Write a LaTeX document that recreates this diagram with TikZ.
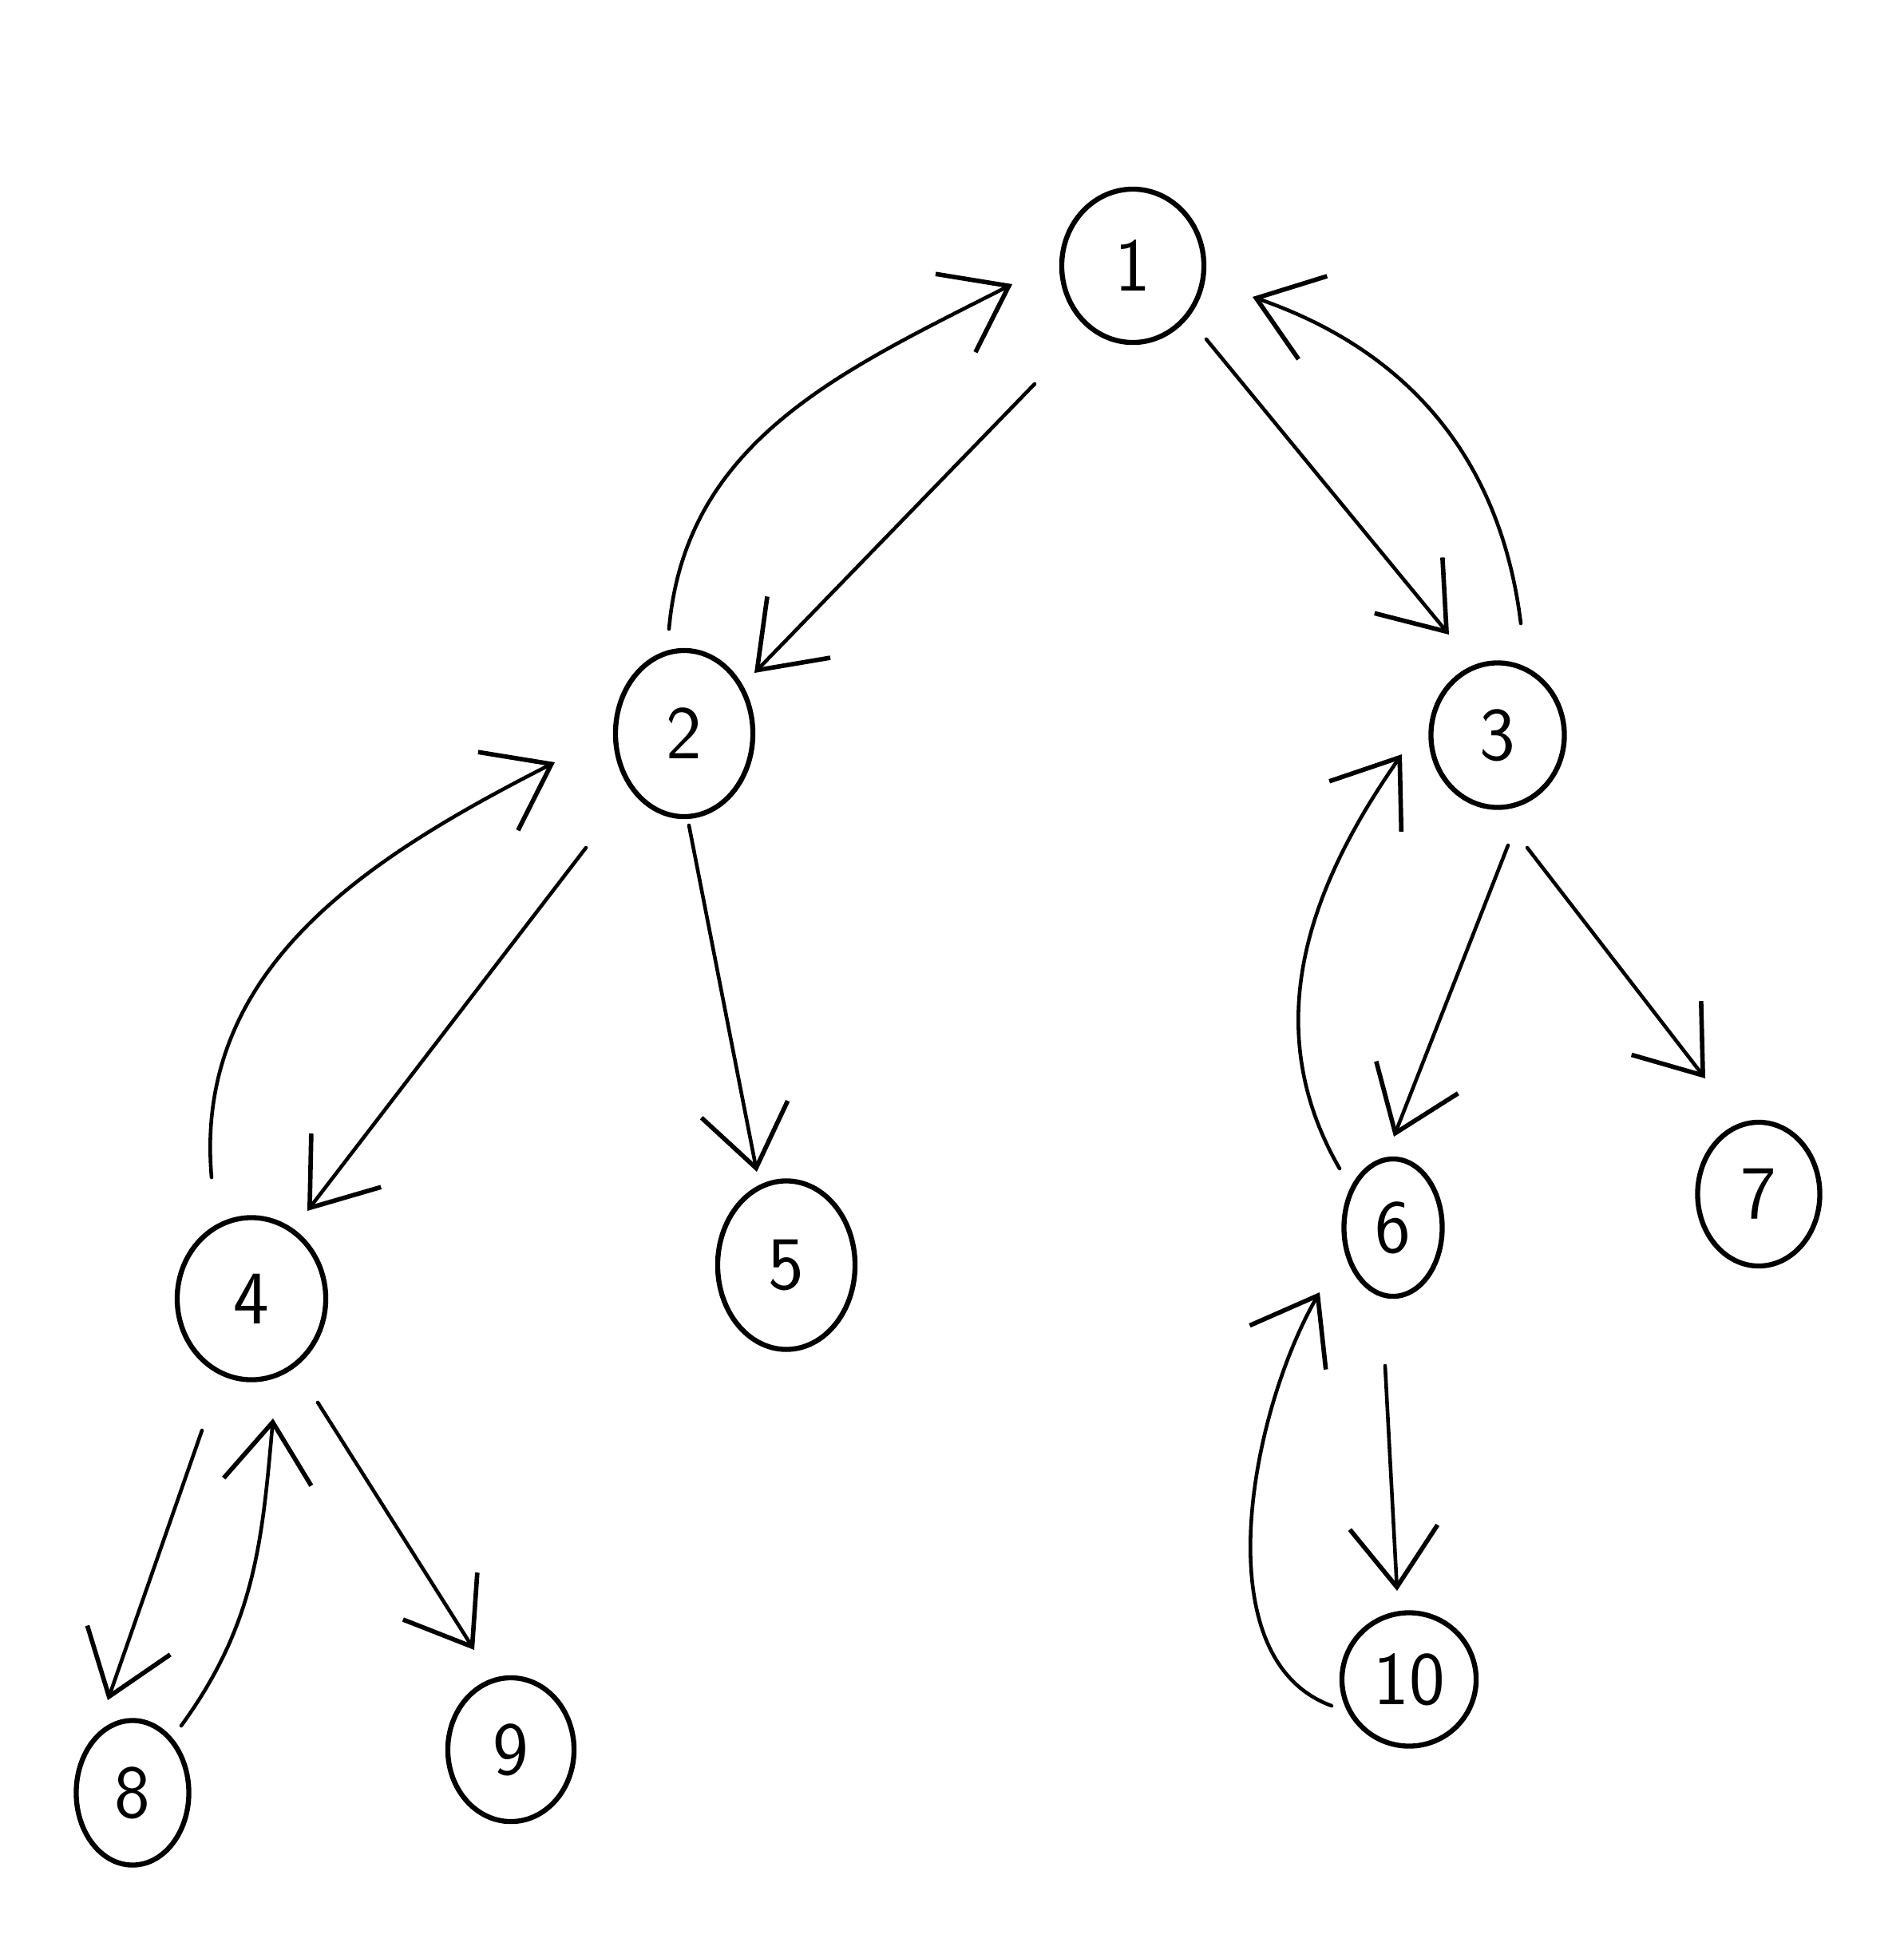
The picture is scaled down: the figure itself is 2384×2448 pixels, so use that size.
\documentclass[tikz,border=0pt]{standalone}
\usetikzlibrary{arrows.meta,shapes.geometric}
\begin{document}
\begin{tikzpicture}[x=0.01cm,y=0.01cm,
  vertex/.style={draw,ellipse,line width=1.8pt,inner sep=0pt,
    font=\sffamily\fontsize{27}{30}\selectfont},
  link/.style={line width=1.3pt,line cap=round,
    -{Straight Barb[length=7.5mm,width=11mm,line width=1.6pt]}},
]
\useasboundingbox[fill=white] (0,0) rectangle (2384,-2448);

% tree nodes
\node[vertex,minimum width=1.78cm,minimum height=1.92cm] (n1)  at (1419,-333)  {1};
\node[vertex,minimum width=1.72cm,minimum height=2.08cm] (n2)  at (857,-919)   {2};
\node[vertex,minimum width=1.67cm,minimum height=1.81cm] (n3)  at (1876,-921)  {3};
\node[vertex,minimum width=1.86cm,minimum height=2.03cm] (n4)  at (315,-1627)  {4};
\node[vertex,minimum width=1.72cm,minimum height=2.11cm] (n5)  at (985,-1585)  {5};
\node[vertex,minimum width=1.23cm,minimum height=1.72cm] (n6)  at (1745,-1538) {6};
\node[vertex,minimum width=1.53cm,minimum height=1.80cm] (n7)  at (2203,-1496) {7};
\node[vertex,minimum width=1.41cm,minimum height=1.81cm] (n8)  at (166,-2246)  {8};
\node[vertex,minimum width=1.58cm,minimum height=1.80cm] (n9)  at (640,-2192)  {9};
\node[vertex,minimum width=1.68cm,minimum height=1.67cm] (n10) at (1765,-2104) {10};

% downward edges
\draw[link] ([shift={(-123,-148)}]n1.center) -- ([shift={(88,76)}]n2.center);
\draw[link] ([shift={(92,-92)}]n1.center) -- ([shift={(-61,126)}]n3.center);
\draw[link] ([shift={(-123,-143)}]n2.center) -- ([shift={(70,110)}]n4.center);
\draw[link] ([shift={(6,-115)}]n2.center) -- ([shift={(-37,117)}]n5.center);
\draw[link] ([shift={(13,-138)}]n3.center) -- ([shift={(1,114)}]n6.center);
\draw[link] ([shift={(37,-141)}]n3.center) -- ([shift={(-67,145)}]n7.center);
\draw[link] ([shift={(-62,-165)}]n4.center) -- ([shift={(-31,116)}]n8.center);
\draw[link] ([shift={(83,-130)}]n4.center) -- ([shift={(-46,125)}]n9.center);
\draw[link] ([shift={(-10,-173)}]n6.center) -- ([shift={(-15,111)}]n10.center);

% return edges
\draw[link] ([shift={(-19,131)}]n2.center) to[out=85,in=207] ([shift={(-151,-23)}]n1.center);
\draw[link] ([shift={(29,140)}]n3.center) to[out=97,in=-19] ([shift={(150,-39)}]n1.center);
\draw[link] ([shift={(-50,152)}]n4.center) to[out=95,in=207] ([shift={(-162,-36)}]n2.center);
\draw[link] ([shift={(-67,74)}]n6.center) to[out=120,in=235] ([shift={(-120,-24)}]n3.center);
\draw[link] ([shift={(61,84)}]n8.center) to[out=54,in=265] ([shift={(27,-150)}]n4.center);
\draw[link] ([shift={(-97,-33)}]n10.center) to[out=160,in=240,looseness=0.85] ([shift={(-92,-81)}]n6.center);
\end{tikzpicture}
\end{document}
